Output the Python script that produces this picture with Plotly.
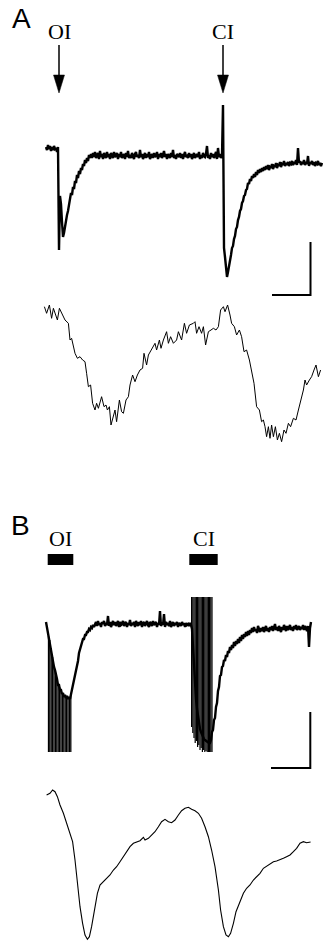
import numpy as np
import plotly.graph_objects as go

W, H = 323, 942

# ---------------- data ----------------
SAMPLE_DT = 0.5          # s between samples of the current records
T0 = 3.0                 # time of first sample (s)

# Panel A, upper trace: membrane current (a.u., 0 = baseline)
a_current = [
    9, 6, 11, 7, 10, 5, 9, 6, 10, 7, 8, 4, 9,
    -94,
    -40, -48, -66, -81, -77, -70, -63, -59, -55, -49,
    -44, -37, -39, -31, -33, -25, -27, -19, -22, -15,
    -18, -12, -14, -8, -10, -4, -7, -2, -5, 1,
    -2,
    2, -2, 3, -1, 4, -2, 1, 3, -3, 5,
    -1, 2, -3, 3, 0, -2, 4, -1, 2, -3,
    3, 1, -2, 4, -1, 0, 3, -3, 2, -1,
    4, -2, 1, 2, -3, 3, -1, 5, -2, 1,
    -2, 3, 0, -3, 2, 4, -1, 1, -2, 6,
    -1, 2, -3, 1, 3, -2, 2, -1, 4, -3,
    1, 2, -2, 3, -1, 0, 4, -3, 2, -1,
    3, -2, 1, 5, -1, 2, -3, 2, 0, -2,
    3, -1, 6, -2, 1, -3, 2, 1, -1, 3,
    -2, 2, -3, 1, 4, -1, 0, -2, 3, -1,
    2, -3, 1, 3, -2, 0, 2, -1, 4, -3,
    1, -2, 3, 0, -1, 2, 10, -2, 1, -3,
    3, -1, 2, -2, 1, 4, -3, 8, -1, 2,
    -2,
    0, 51, -92,
    -101, -111, -121, -116, -111, -103, -99, -92, -90, -83,
    -80, -73, -71, -64, -61, -55, -53, -47, -45, -40,
    -39, -34, -33, -27, -28, -23, -25, -20, -22, -18,
    -21, -16, -19, -14, -17, -13,
    -16, -12, -15, -11, -14, -10, -13, -9, -14, -11,
    -12, -8, -13, -10, -11, -7, -12, -9, -10, -6,
    -11, -8, -9, -5, -10, -7, -9, -6, -10, -7,
    -8, -5, -9, -6, -8, -4, -9, 8, -7, -5,
    -9, -6, -8, -4, -9, -6, -8, 0, -10, -6,
    -8, -5, -9, -6, -10, -7, -8, -5, -9, -7,
    -10, -7,
]

# Panel A, lower trace (slow signal)
a_signal_t = [
    2.2, 3.3, 4.7, 5.8, 6.7, 8.0, 8.7, 9.7, 10.8, 12.5, 14.2, 15.0, 15.8, 16.7,
    17.5, 18.7, 20.0, 21.3, 22.5, 23.3, 24.2, 25.3, 26.3, 27.5, 28.3, 29.2,
    30.0, 30.8, 32.0, 33.0, 33.7, 34.7, 35.5, 36.7, 37.5, 38.3, 39.7, 40.8,
    41.7, 43.0, 44.2, 45.0, 46.3, 47.5, 48.7, 50.0, 51.3, 52.0, 53.3, 54.2,
    55.8, 56.7, 57.5, 58.3, 59.7, 60.5, 61.7, 63.3, 64.2, 65.3, 66.7, 68.3,
    69.2, 70.8, 72.2, 73.3, 74.7, 76.7, 77.5, 78.3, 79.5, 80.8, 81.7, 82.8,
    84.2, 85.5, 86.7, 88.0, 89.2, 90.3, 91.7, 92.5, 93.8, 95.0, 95.8, 97.2,
    98.3, 99.7, 100.8, 102.0, 103.3, 104.7, 105.8, 107.0, 108.3, 109.7, 110.8,
    111.7, 112.5, 113.3, 114.2, 115.0, 115.8, 116.7, 117.7, 118.7, 119.7,
    120.8, 122.0, 123.0, 124.2, 125.3, 126.7, 128.0, 129.2, 130.5, 131.7,
    132.5, 133.3, 134.7, 135.8, 137.0, 138.0, 139.2, 140.3,
]
a_signal = [
    -16.7, -23.3, -15, -28.3, -18.3, -25, -30, -18.3, -23.3, -30, -33.3, -50,
    -48.3, -55, -63.3, -68.3, -66.7, -70, -71.7, -83.3, -96.7, -95, -113.3,
    -120, -113.3, -118.3, -113.3, -106.7, -116.7, -115, -120, -116.7, -135,
    -126.7, -120, -131.7, -110, -121.7, -123.3, -110, -106.7, -95, -85, -91.7,
    -85, -80, -78.3, -63.3, -75, -65, -60, -56.7, -53.3, -60, -50, -58.3, -50,
    -41.7, -53.3, -46.7, -53.3, -50, -41.7, -50, -33.3, -43.3, -35, -33.3,
    -31.7, -43.3, -36.7, -43.3, -36.7, -55, -41.7, -40, -38.3, -40, -36.7,
    -20, -16.7, -21.7, -15, -25, -33.3, -36.7, -45, -40, -46.7, -61.7, -60,
    -70, -83.3, -93.3, -116.7, -120, -131.7, -130, -136.7, -146.7, -136.7,
    -148.3, -135, -146.7, -136.7, -150, -143.3, -151.7, -140, -143.3, -133.3,
    -136.7, -128.3, -130, -120, -110, -100, -90, -95, -90, -86.7, -80, -75,
    -86.7, -80,
]

# Panel B, upper trace: membrane current (a.u., 0 = baseline)
b_current = [
    2, -4, -10, -14, -20, -24, -31, -36, -43, -46,
    -53, -55, -61, -61, -66, -66, -70, -69, -73, -71,
    -74, -72, -75, -73, -75, -70, -68, -62, -58, -50,
    -47, -41, -37, -29, -25, -20, -19, -15, -15, -11,
    -11, -8, -8, -5, -6, -3, -4, -1, -3, 0,
    2, -2, 3, -1, 1, -3, 2, 0, 3, -2,
    1, -1, 8, -2, 2, -3, 1, 3, -1, 2,
    -2, 1, 3, -3, 2, -1, 0, 3, -2, 1,
    2, -3, 1, -1, 4, -2, 1, -1, 2, -3,
    3, 0, -2, 2, -1, 3, -3, 1, 2, -2,
    0, 3, -1, -3, 2, 1, -2, 3, -1, 0,
    2, -3, 1, -1, 13, -2, 1, -1, 10, -3,
    2, -1, 1, -2, 3, -3, 0, 2, -2, 1,
    -1, 2, -3, 1, 0, -2, 2, -1, 1, -3,
    1, -1, 0, -2, 1, -1,
    -5, -25, -45, -62, -75, -85, -93, -100, -105, -108,
    -111, -113, -115, -116, -117, -118, -119, -119, -119, -116,
    -108, -106, -96, -94, -83, -79, -67, -63, -52, -51,
    -43, -42, -36, -37, -31, -33, -27, -29, -23, -26,
    -21, -24, -18, -22, -17, -20, -15, -19, -13, -17,
    -11, -15, -10, -13, -8, -12, -7, -11, -6,
    -9, -4, -8, -3, -7, -5, -9, -2, -6, -8,
    -4, -7, -3, -8, -5, -2, -7, -4, -8, -3,
    -6, -2, -7, -4, 0, -6, -3, -7, -2, -5,
    -8, -3, -6, -1, -5, -7, -2, -6, -4, -1,
    -6, -3, -7, -2, -5, -1, -6, -4, -2, -6,
    -3, -5, -1, -6, -2, -4, -7, -2, -23, -4,
    2,
]

# Panel B, stimulus artefacts (time, upper end, lower end)
b_oi_stim_t = [4.25, 4.9, 5.6, 6.3, 7.0, 7.7, 8.4, 9.1, 9.8, 10.5, 11.2, 11.9,
               12.6, 13.3, 14.0, 14.7, 15.4]
b_oi_stim_top = [-12, -16, -24, -33, -43, -48, -55, -61, -63, -66, -70, -71,
                 -72, -73, -74, -74, -71]
b_oi_stim_bottom = [-128] * 17
b_ci_stim_t = [75.8, 76.4, 77.0, 77.6, 78.2, 78.8, 79.4, 80.0, 80.6, 81.2,
               81.8, 82.4, 83.0, 83.6, 84.2, 84.8, 85.4, 86.0]
b_ci_stim_top = [27] * 18
b_ci_stim_bottom = [-103, -109, -114, -119, -117, -123, -121, -126, -124,
                    -128, -126, -128, -127, -128, -128, -128, -128, -128]

# Panel B, lower trace (slow signal)
b_signal_t = [
    3.3, 5.0, 6.3, 7.5, 8.7, 10.0, 11.7, 13.3, 15.0, 16.3, 17.5, 18.7, 20.0,
    21.3, 22.5, 23.7, 24.7, 25.8, 27.2, 28.7, 30.0, 31.7, 33.3, 35.0, 36.7,
    38.3, 40.0, 41.7, 43.3, 45.0, 46.7, 48.3, 50.0, 51.7, 52.5, 54.2, 55.8,
    57.5, 59.2, 60.8, 62.5, 64.2, 65.8, 67.5, 69.2, 70.8, 72.5, 74.2, 75.8,
    77.5, 79.2, 80.8, 82.5, 84.2, 85.8, 87.5, 89.2, 90.3, 91.7, 93.0, 94.2,
    95.3, 96.7, 98.0, 99.7, 101.7, 103.3, 105.0, 106.7, 108.3, 110.0, 111.7,
    113.3, 115.0, 116.7, 118.3, 120.0, 121.7, 123.3, 125.0, 126.7, 128.3,
    130.0, 131.7, 133.3, 135.3,
]
b_signal = [
    -15, -13.3, -10, -11.7, -16.7, -25, -33.3, -43.3, -53.3, -61.7, -80,
    -103.3, -126.7, -143.3, -155, -159.3, -156.7, -146.7, -131.7, -113.3,
    -105, -101.7, -98.3, -95, -90, -86.7, -81.7, -76.7, -71.7, -66.7, -63.3,
    -61.7, -60.7, -57.3, -60, -58.3, -55, -51.7, -46.7, -41.7, -39.3, -41.7,
    -42.7, -40, -35, -30.7, -28.3, -27.3, -29.3, -30.7, -33.3, -38.3, -46.7,
    -56.7, -70, -86.7, -110, -130, -146.7, -155, -156.7, -153.3, -143.3,
    -131.7, -123.3, -113.3, -108.3, -105, -100, -96.7, -93.3, -88.3, -86,
    -83.3, -81.7, -81, -80, -78.3, -76.7, -75, -71.7, -68.3, -63.3, -61.7,
    -62.7, -62,
]

# Stimulation events
event_labels = ["OI", "CI"]
a_event_t = [9.5, 91.5]
b_train_start = [3.85, 74.65]
b_train_end = [16.65, 88.85]

# Scale bars (time span, current span) in data units
a_scale_t = [116.0, 135.25]
a_scale_v = [-139, -86]
b_scale_t = [115.5, 135.15]
b_scale_v = [-144, -88]

# ---------------- layout helpers ----------------
T_RANGE = [-20, 141.5]


def pyp(py):
    return 1 - py / H


def yaxis(py0, top, bottom):
    return dict(domain=[pyp(bottom), pyp(top)], range=[py0 - bottom, py0 - top],
                visible=False, anchor="x", fixedrange=True)


a_t = T0 + SAMPLE_DT * np.arange(len(a_current))
b_t = T0 + SAMPLE_DT * np.arange(len(b_current))

fig = go.Figure()

fig.add_trace(go.Scatter(x=a_t, y=a_current, mode="lines", yaxis="y",
                         line=dict(color="black", width=2.4)))
fig.add_trace(go.Scatter(x=a_signal_t, y=a_signal, mode="lines", yaxis="y2",
                         line=dict(color="black", width=1.0)))
fig.add_trace(go.Scatter(x=b_t, y=b_current, mode="lines", yaxis="y3",
                         line=dict(color="black", width=2.4)))


def seg(ts, tops, bots):
    xs, ys = [], []
    for t, a, b in zip(ts, tops, bots):
        xs += [t, t, None]
        ys += [a, b, None]
    return xs, ys


xs, ys = seg(b_oi_stim_t, b_oi_stim_top, b_oi_stim_bottom)
fig.add_trace(go.Scatter(x=xs, y=ys, mode="lines", yaxis="y3",
                         line=dict(color="black", width=1.3)))
xs, ys = seg(b_ci_stim_t, b_ci_stim_top, b_ci_stim_bottom)
fig.add_trace(go.Scatter(x=xs, y=ys, mode="lines", yaxis="y3",
                         line=dict(color="black", width=1.2)))

fig.add_trace(go.Scatter(x=b_signal_t, y=b_signal, mode="lines", yaxis="y4",
                         line=dict(color="black", width=1.1)))

# scale bars
fig.add_trace(go.Scatter(x=[a_scale_t[0], a_scale_t[1], a_scale_t[1]],
                         y=[a_scale_v[0], a_scale_v[0], a_scale_v[1]],
                         mode="lines", yaxis="y", line=dict(color="black", width=2)))
fig.add_trace(go.Scatter(x=[b_scale_t[0], b_scale_t[1], b_scale_t[1]],
                         y=[b_scale_v[0], b_scale_v[0], b_scale_v[1]],
                         mode="lines", yaxis="y3", line=dict(color="black", width=2)))

shapes = []
annotations = []
# Panel A arrows and labels
for lab, t in zip(event_labels, a_event_t):
    shapes.append(dict(type="line", xref="x", yref="paper", x0=t, x1=t,
                       y0=pyp(45), y1=pyp(78), line=dict(color="black", width=1.5)))
    shapes.append(dict(type="path", xref="x", yref="paper",
                       path=f"M{t-2.75},{pyp(75)} L{t+2.75},{pyp(75)} L{t},{pyp(93)} Z",
                       fillcolor="black", line=dict(color="black", width=0.5)))
    annotations.append(dict(x=t, y=pyp(31.5), xref="x", yref="paper", text=lab,
                            showarrow=False, xanchor="center", yanchor="middle",
                            font=dict(family="Liberation Serif, Times New Roman, serif",
                                      size=22, color="black")))
# Panel B stimulus bars and labels
for lab, t0, t1 in zip(event_labels, b_train_start, b_train_end):
    shapes.append(dict(type="rect", xref="x", yref="paper", x0=t0, x1=t1,
                       y0=pyp(565), y1=pyp(554), fillcolor="black",
                       line=dict(width=0)))
    annotations.append(dict(x=(t0 + t1) / 2, y=pyp(538.5), xref="x", yref="paper",
                            text=lab, showarrow=False, xanchor="center", yanchor="middle",
                            font=dict(family="Liberation Serif, Times New Roman, serif",
                                      size=22, color="black")))

for lab, px, py in [("A", 21.5, 19), ("B", 20, 525)]:
    annotations.append(dict(x=px / W, y=pyp(py), xref="paper", yref="paper", text=lab,
                            showarrow=False, xanchor="center", yanchor="middle",
                            font=dict(family="Liberation Sans, Arial, sans-serif",
                                      size=28, color="black")))

fig.update_layout(
    width=W, height=H, margin=dict(l=0, r=0, t=0, b=0),
    paper_bgcolor="white", plot_bgcolor="white", showlegend=False,
    xaxis=dict(domain=[0, 1], range=T_RANGE, visible=False, fixedrange=True),
    yaxis=yaxis(156, 85, 297),
    yaxis2=yaxis(290, 298, 452),
    yaxis3=yaxis(624, 590, 772),
    yaxis4=yaxis(780, 775, 942),
    shapes=shapes, annotations=annotations,
)

fig.write_html("out.html", config={"displayModeBar": False})
